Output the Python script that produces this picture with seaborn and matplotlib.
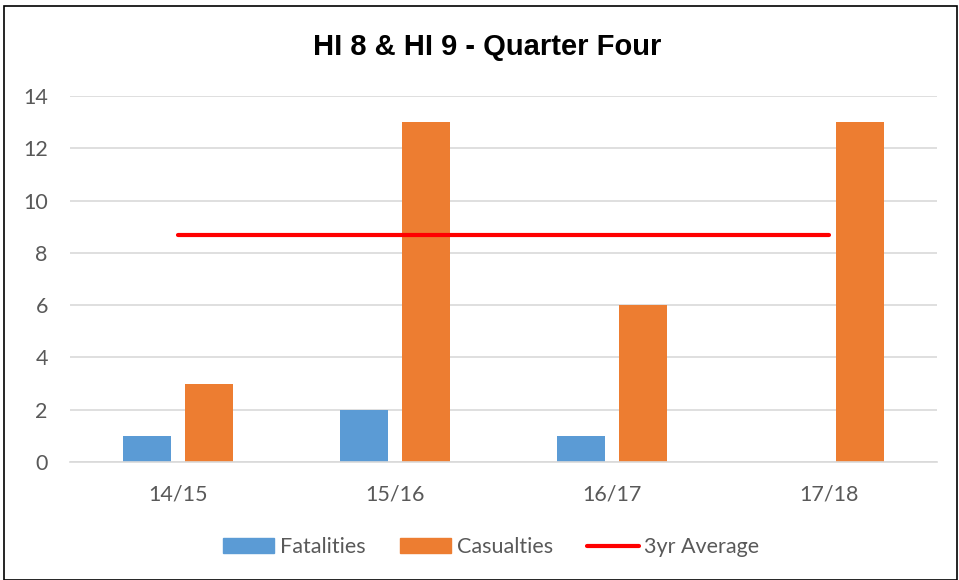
import numpy as np
import pandas as pd
import matplotlib.pyplot as plt
import seaborn as sns
from matplotlib.patches import Rectangle

years = ['14/15', '15/16', '16/17', '17/18']
fatalities = [1, 2, 1, 0]
casualties = [3, 13, 6, 13]
avg_3yr = [8.67, 8.67, 8.67, 8.67]

df = pd.DataFrame({'Year': years * 2,
                   'Count': fatalities + casualties,
                   'Type': ['Fatalities'] * 4 + ['Casualties'] * 4})

sns.set_style('white')
plt.rcParams['font.family'] = ['Lato', 'DejaVu Sans']

fig = plt.figure(figsize=(9.59, 5.8), dpi=100)
ax = fig.add_axes([70/959, 1 - 462/580, 867/959, 366/580])

sns.barplot(data=df, x='Year', y='Count', hue='Type',
            palette=['#5b9bd5', '#ed7d31'], saturation=1, width=0.572, gap=0.227,
            linewidth=0, legend=False, ax=ax)
sns.lineplot(x=np.arange(len(years)), y=avg_3yr, color='#ff0000',
             linewidth=3, solid_capstyle='round', ax=ax)

ax.set_xlim(-0.5, 3.5)
ax.set_ylim(0, 14)
ax.set_yticks(range(0, 15, 2))
ax.grid(axis='y', color='#d9d9d9', linewidth=1.2)
ax.set_axisbelow(True)
for s in ['top', 'right', 'left']:
    ax.spines[s].set_visible(False)
ax.spines['bottom'].set_color('#d9d9d9')
ax.spines['bottom'].set_linewidth(1.2)
ax.tick_params(axis='both', length=0, labelsize=15.5, labelcolor='#595959')
ax.tick_params(axis='x', pad=16)
ax.tick_params(axis='y', pad=16)
ax.set_xlabel('')
ax.set_ylabel('')

fig.text(487/959, 1 - 47/580, 'HI 8 & HI 9 - Quarter Four', ha='center', va='center',
         fontsize=21, fontweight='bold', family='Liberation Sans', color='#000000')

handles = [Rectangle((0, 0), 1, 1, color='#5b9bd5'),
           Rectangle((0, 0), 1, 1, color='#ed7d31'),
           plt.Line2D([0], [0], color='#ff0000', linewidth=3, solid_capstyle='round')]
leg = fig.legend(handles, ['Fatalities', 'Casualties', '3yr Average'],
                 loc='center', bbox_to_anchor=(491/959, 1 - 547/580), ncol=3,
                 frameon=False, fontsize=15.5, handlelength=2.4, handleheight=0.65,
                 handletextpad=0.25, columnspacing=1.6)
for t in leg.get_texts():
    t.set_color('#595959')

fig.patches.append(Rectangle((4/959, 0), 953/959, 1 - 6/580, transform=fig.transFigure,
                             fill=False, edgecolor='black', linewidth=1.2))

fig.savefig('out.png', dpi=100)
